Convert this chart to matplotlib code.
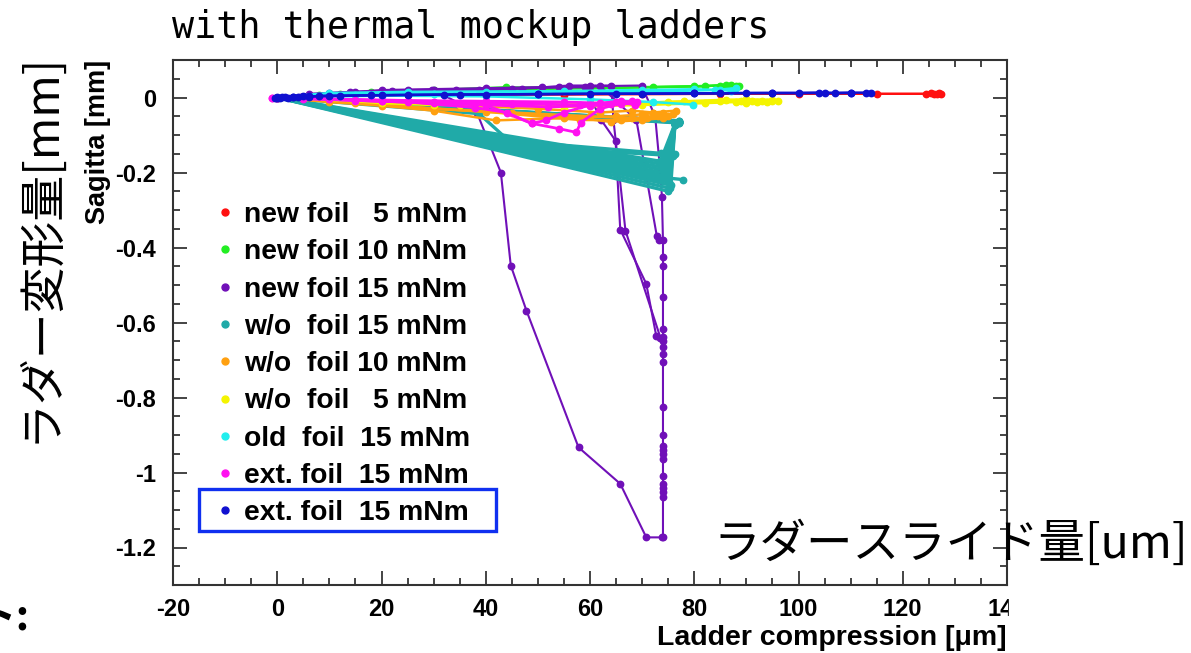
import matplotlib
matplotlib.use('Agg')
import matplotlib.pyplot as plt
from matplotlib.lines import Line2D
from matplotlib.patches import Rectangle
from matplotlib.ticker import MultipleLocator, FixedLocator, FixedFormatter
from matplotlib.font_manager import FontProperties

plt.rcParams['axes.unicode_minus'] = False

# ---------------- data ----------------
legend_labels = ["new foil   5 mNm", "new foil 10 mNm", "new foil 15 mNm",
                 "w/o  foil 15 mNm", "w/o  foil 10 mNm", "w/o  foil   5 mNm",
                 "old  foil  15 mNm", "ext. foil  15 mNm", "ext. foil  15 mNm"]
series_colors = ["#ff1010", "#22ee22", "#7010b8", "#20aaa8", "#ffa010",
                 "#f4f400", "#22eeee", "#ff10f0", "#1010d0"]

x_ticks = [-20, 0, 20, 40, 60, 80, 100, 120, 140]
x_tick_labels = ["-20", "0", "20", "40", "60", "80", "100", "120", "140"]
y_ticks = [-1.2, -1.0, -0.8, -0.6, -0.4, -0.2, 0.0]
y_tick_labels = ["-1.2", "-1", "-0.8", "-0.6", "-0.4", "-0.2", "0"]

# new foil 5 mNm (red)
red_x = [[0, 10, 25, 40, 55, 70, 85, 100, 115, 124.5, 125.5, 126, 126.5, 127, 127.3]]
red_y = [[0, 0.005, 0.006, 0.008, 0.008, 0.009, 0.01, 0.01, 0.01, 0.01, 0.011, 0.009, 0.01, 0.011, 0.01]]

# new foil 10 mNm (green)
green_x = [[0, 8, 18, 30, 43.8, 60, 72, 80, 85, 87, 88.5],
           [0, 12, 25, 40, 55, 70, 82, 86, 88]]
green_y = [[0, 0.008, 0.015, 0.02, 0.027, 0.025, 0.028, 0.03, 0.032, 0.033, 0.031],
           [0, 0.01, 0.018, 0.02, 0.024, 0.027, 0.03, 0.034, 0.03]]

# new foil 15 mNm (purple)
purple_x = [[0, 6, 14, 22, 30, 38.3, 42.9, 44.8, 47.8, 57.8, 65.8, 70.8, 73.9],
            [0, 10, 20, 29.7, 38.7, 46.9, 54, 59.1, 62.2, 64.9, 65.8, 70.8, 72.7, 74],
            [0, 15, 34.3, 50.7, 55.9, 64.1, 64.5, 66.8, 73.5],
            [0, 25, 45, 62, 68.9, 72.8, 73.2],
            [0, 20, 40, 60, 69.9, 72.5, 73.5, 73.8, 74, 74, 74, 74, 74, 74, 74, 74, 74,
             74, 74, 74, 74, 74, 74, 74, 74, 74, 74, 74, 74]]
purple_y = [[0, 0.01, 0.015, 0.018, 0.02, -0.04, -0.2, -0.448, -0.568, -0.933, -1.03, -1.173, -1.173],
            [0, 0.012, 0.016, 0.019, 0.019, 0.024, 0.027, 0.027, -0.061, -0.115, -0.352, -0.497, -0.635, -0.65],
            [0, 0.015, 0.019, 0.027, 0.032, 0.032, -0.06, -0.355, -0.64],
            [0, 0.02, 0.024, 0.03, -0.06, -0.368, -0.38],
            [0, 0.02, 0.025, 0.03, 0.032, -0.05, -0.2, -0.266, -0.381, -0.426, -0.448,
             -0.532, -0.617, -0.639, -0.666, -0.684, -0.706, -0.826, -0.901, -0.928,
             -0.941, -0.95, -0.963, -1.008, -1.03, -1.04, -1.053, -1.066, -1.173]]

# w/o foil 15 mNm (teal)
teal_x = [[0, 73.5, 76.3, 77.0, 0],
          [0, 73.8, 76.3, 77.0, 0],
          [0, 74.0, 76.3, 77.0, 0],
          [0, 74.3, 76.3, 77.0, 0],
          [0, 74.5, 76.3, 77.0, 0],
          [0, 74.8, 76.3, 77.0, 0],
          [0, 75.0, 76.3, 77.0, 0],
          [0, 75.2, 76.3, 77.0, 0],
          [0, 75.5, 76.3, 77.0, 0],
          [0, 75.3, 76.3, 77.0, 0],
          [0, 75.0, 76.3, 77.0, 0],
          [0, 38.7, 44.4, 73.7, 76.3],
          [0, 73.7, 77.9],
          [0, 49.6, 76.0]]
teal_y = [[0, -0.17, -0.07, -0.065, 0],
          [0, -0.178, -0.07, -0.063, 0],
          [0, -0.186, -0.07, -0.066, 0],
          [0, -0.194, -0.072, -0.064, 0],
          [0, -0.202, -0.07, -0.067, 0],
          [0, -0.21, -0.071, -0.062, 0],
          [0, -0.218, -0.07, -0.065, 0],
          [0, -0.226, -0.07, -0.068, 0],
          [0, -0.234, -0.072, -0.064, 0],
          [0, -0.242, -0.07, -0.066, 0],
          [0, -0.25, -0.07, -0.065, 0],
          [0, -0.043, -0.115, -0.149, -0.15],
          [0, -0.213, -0.219],
          [0, -0.133, -0.155]]

# w/o foil 10 mNm (orange)
orange_x = [[0, 10, 20, 30, 41.9, 55, 65, 70, 72, 74],
            [0, 15, 30, 45, 60, 68, 73, 76],
            [0, 20, 40, 58, 66, 71, 75],
            [0, 25, 50, 62, 68, 72, 76.5],
            [0, 30, 55, 64, 70, 74]]
orange_y = [[0, -0.012, -0.022, -0.035, -0.061, -0.055, -0.05, -0.045, -0.042, -0.04],
            [0, -0.015, -0.03, -0.04, -0.05, -0.055, -0.05, -0.045],
            [0, -0.02, -0.038, -0.06, -0.06, -0.055, -0.05],
            [0, -0.015, -0.03, -0.04, -0.035, -0.04, -0.035],
            [0, -0.03, -0.05, -0.065, -0.06, -0.055]]

# w/o foil 5 mNm (yellow)
yellow_x = [[0, 10, 20, 30, 45, 60, 75, 85, 89, 91, 93, 95, 96],
            [0, 15, 35, 55, 70, 82, 88, 90, 92, 94],
            [0, 20, 40, 60, 78, 86, 90, 95]]
yellow_y = [[0, -0.005, -0.015, -0.02, -0.018, -0.015, -0.012, -0.01, -0.008, -0.01, -0.008, -0.01, -0.009],
            [0, -0.01, -0.02, -0.025, -0.02, -0.015, -0.012, -0.014, -0.012, -0.013],
            [0, -0.012, -0.018, -0.02, -0.01, -0.006, -0.005, -0.006]]

# old foil 15 mNm (cyan)
cyan_x = [[0, 10, 25, 40, 55, 70, 80, 85, 87],
          [0, 20, 40, 60, 72, 79.8],
          [0, 15, 30, 50, 70, 84, 88]]
cyan_y = [[0, 0.012, 0.015, 0.016, 0.017, 0.02, 0.022, 0.02, 0.018],
          [0, 0.005, 0.003, -0.005, -0.012, -0.019],
          [0, 0.008, 0.01, 0.012, 0.015, 0.02, 0.025]]

# ext. foil 15 mNm (magenta)
magenta_x = [[-1, 5, 15, 25, 38, 44, 48.8, 51.5, 55, 60, 65, 68.7],
             [-1, 10, 20, 30, 40, 48.8, 54, 57.4, 58.2, 62, 66, 68],
             [0, 10, 25, 40, 55, 62, 66, 69],
             [0, 15, 30, 45, 58, 64, 68.7],
             [0, 20, 40, 52, 60, 66]]
magenta_y = [[0, -0.003, -0.008, -0.012, -0.027, -0.04, -0.069, -0.061, -0.04, -0.02, -0.012, -0.019],
             [0, -0.005, -0.01, -0.015, -0.02, -0.069, -0.083, -0.093, -0.067, -0.03, -0.015, -0.01],
             [0, -0.004, -0.008, -0.01, -0.012, -0.015, -0.01, -0.012],
             [0, -0.006, -0.012, -0.016, -0.02, -0.018, -0.016],
             [0, -0.01, -0.02, -0.025, -0.022, -0.018]]

# ext. foil 15 mNm (blue)
blue_x = [[-0.5, 0, 0.5, 1, 1.5, 2, 3, 4, 5, 6, 8, 12, 18, 25, 32, 40, 50, 60, 70, 80,
           85, 90, 95, 100, 104, 107, 110, 113, 114],
          [0, 3, 6, 10, 20, 35, 50, 65, 80, 95, 105, 110]]
blue_y = [[0, 0.001, 0, 0.002, 0.001, 0, 0.002, 0.001, 0.003, 0.002, 0.004, 0.005, 0.006,
           0.007, 0.008, 0.008, 0.009, 0.01, 0.01, 0.011, 0.011, 0.012, 0.012, 0.012, 0.013,
           0.012, 0.013, 0.013, 0.013],
          [0, 0.002, 0.003, 0.004, 0.006, 0.008, 0.009, 0.01, 0.011, 0.012, 0.012, 0.012]]

all_runs_x = [red_x, green_x, purple_x, teal_x, orange_x, yellow_x, cyan_x, magenta_x, blue_x]
all_runs_y = [red_y, green_y, purple_y, teal_y, orange_y, yellow_y, cyan_y, magenta_y, blue_y]
line_widths = [1.8, 1.8, 1.5, 2.4, 1.8, 1.8, 1.8, 2.0, 1.8]

# ---------------- figure ----------------
W, H = 1191, 653
fig = plt.figure(figsize=(W / 100, H / 100), dpi=100)
fig.patch.set_facecolor('white')
ax = fig.add_axes([173 / W, 1 - 585 / H, (1007 - 173) / W, (585 - 60) / H])

for rx, ry, col, lw in zip(all_runs_x, all_runs_y, series_colors, line_widths):
    for xs, ys in zip(rx, ry):
        ax.plot(xs, ys, color=col, lw=lw, marker='o', ms=4.6, mec=col, mfc=col)

ax.set_xlim(-20, 140)
ax.set_ylim(-1.3, 0.1)

sans_bold = dict(family=['Liberation Sans', 'DejaVu Sans'], weight='bold')
ax.xaxis.set_major_locator(FixedLocator(x_ticks))
ax.xaxis.set_major_formatter(FixedFormatter(x_tick_labels))
ax.yaxis.set_major_locator(FixedLocator(y_ticks))
ax.yaxis.set_major_formatter(FixedFormatter(y_tick_labels))
ax.xaxis.set_minor_locator(MultipleLocator(5))
ax.yaxis.set_minor_locator(MultipleLocator(0.05))
for lab in ax.get_xticklabels() + ax.get_yticklabels():
    lab.set_fontproperties(FontProperties(size=17, **sans_bold))
ax.tick_params(which='both', direction='in', top=True, right=True, color='#444444', width=1.4)
ax.tick_params(which='major', length=10)
ax.tick_params(which='minor', length=5)
ax.tick_params(axis='y', which='major', pad=12)
ax.tick_params(axis='x', which='major', pad=9)
for sp in ax.spines.values():
    sp.set_color('#333333')
    sp.set_linewidth(1.5)

ax.set_xlabel("Ladder compression [\u03bcm]", loc='right', fontsize=20.5,
              labelpad=3, **sans_bold)
ax.set_ylabel("Sagitta [mm]", loc='top', fontsize=19.5, labelpad=3, **sans_bold)

# legend
handles = [Line2D([], [], ls='none', marker='o', ms=5, color=c) for c in series_colors]
leg = ax.legend(handles, legend_labels, loc='upper left',
                bbox_to_anchor=(217 / W, 1 - 202 / H), bbox_transform=fig.transFigure,
                frameon=False, borderpad=0, borderaxespad=0, handlelength=0.6,
                handletextpad=0.35, labelspacing=0.40,
                prop=dict(size=20.3, **sans_bold))

# highlight box around last legend entry
ax.add_patch(Rectangle((199 / W, 1 - 531 / H), (496 - 199) / W, (531 - 489) / H,
                       transform=fig.transFigure, fill=False, ec='#1030f0', lw=2.4,
                       clip_on=False, zorder=10))

# mask right of the cropped chart
fig.add_artist(Rectangle((1009 / W, 0), 1 - 1009 / W, 1, transform=fig.transFigure,
                         color='white', zorder=3))

# overlay texts
fig.text(172 / W, 1 - 27 / H, "with thermal mockup ladders", family='DejaVu Sans Mono',
         fontsize=26.5, ha='left', va='center', zorder=5)
fig.text(40 / W, 1 - 247 / H, "ラダー変形量[mm]", family=['Noto Sans CJK JP', 'DejaVu Sans'],
         fontsize=33, rotation=90, ha='center', va='center', zorder=5)
fig.text(1188 / W, 1 - 545 / H, "ラダースライド量[um]", family=['Noto Sans CJK JP', 'DejaVu Sans'],
         fontsize=33.5, ha='right', va='center', zorder=5)
fig.text(30 / W, 1 - 617 / H, "ト:", family=['Noto Sans CJK JP', 'DejaVu Sans'],
         fontsize=30, weight='bold', ha='right', va='center', zorder=5)

fig.savefig('out.png', dpi=100, facecolor='white')
